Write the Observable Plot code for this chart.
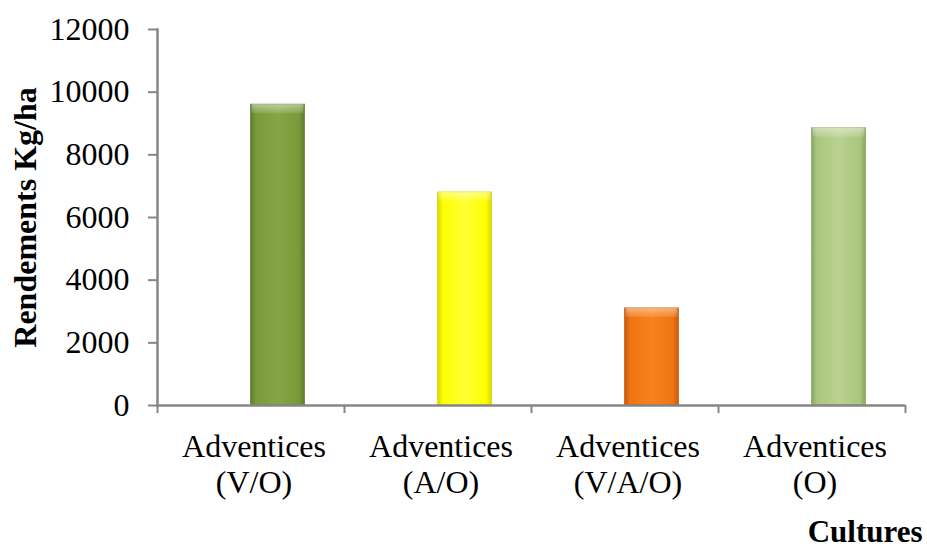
<!DOCTYPE html>
<html>
<head>
<meta charset="utf-8">
<script src="https://cdn.jsdelivr.net/npm/d3@7"></script>
<script src="https://cdn.jsdelivr.net/npm/@observablehq/plot@0.6"></script>
<style>
  html, body { margin: 0; padding: 0; background: #ffffff; }
</style>
</head>
<body>
<div id="chart"></div>
<script>
// Data
const categories = ["Adventices\n(V/O)", "Adventices\n(A/O)", "Adventices\n(V/A/O)", "Adventices\n(O)"];
const rendements = [9600, 6800, 3100, 8850];
const baseColors = ["#79993A", "#FFFF00", "#F07412", "#AAC67F"];
const lightColors = ["#86A645", "#FFFF33", "#F7821E", "#B9D290"];
const edgeColors = ["#5E7A2A", "#D6D600", "#C65A08", "#88A462"];
const yTicks = [0, 2000, 4000, 6000, 8000, 10000, 12000];
const yTitle = "Rendements Kg/ha";
const xTitle = "Cultures";

const data = categories.map((c, i) => ({cat: c, val: rendements[i], idx: i}));

const band = 748 / categories.length;
const barW = 54;
const insetL = band / 2;
const insetR = band - insetL - barW;
const axisColor = "#868686";

function defsMark() {
  const defs = d3.create("svg:defs");
  baseColors.forEach((b, i) => {
    const g = defs.append("linearGradient").attr("id", "g" + i)
      .attr("x1", 0).attr("x2", 1).attr("y1", 0).attr("y2", 0);
    g.append("stop").attr("offset", "0%").attr("stop-color", edgeColors[i]);
    g.append("stop").attr("offset", "10%").attr("stop-color", b);
    g.append("stop").attr("offset", "50%").attr("stop-color", lightColors[i]);
    g.append("stop").attr("offset", "90%").attr("stop-color", b);
    g.append("stop").attr("offset", "100%").attr("stop-color", edgeColors[i]);
  });
  const t = defs.append("linearGradient").attr("id", "topbev")
    .attr("x1", 0).attr("x2", 0).attr("y1", 0).attr("y2", 1);
  t.append("stop").attr("offset", "0%").attr("stop-color", "#ffffff").attr("stop-opacity", 0.45);
  t.append("stop").attr("offset", "100%").attr("stop-color", "#ffffff").attr("stop-opacity", 0.1);
  return defs.node();
}

const barMarks = data.map((d, i) =>
  Plot.barY([d], {
    x: "cat", y: "val",
    insetLeft: insetL, insetRight: insetR,
    fill: `url(#g${i})`,
    stroke: edgeColors[i], strokeWidth: 1, strokeOpacity: 0.7
  })
);

const chart = Plot.plot({
  width: 927,
  height: 550,
  marginLeft: 157,
  marginRight: 22,
  marginTop: 29,
  marginBottom: 145,
  x: {domain: categories, padding: 0, axis: null},
  y: {domain: [0, 12000], axis: null},
  style: {fontFamily: "'Liberation Serif', 'Times New Roman', serif", fontSize: "32px", background: "#ffffff", color: "#000000"},
  marks: [
    defsMark,
    ...barMarks,
    Plot.barY(data, {
      x: "cat", y1: "val", y2: "val",
      insetLeft: insetL + 1, insetRight: insetR + 1, insetBottom: -9,
      fill: "url(#topbev)"
    }),
    Plot.frame({anchor: "left", stroke: axisColor, strokeWidth: 2.5}),
    Plot.ruleY([0], {stroke: axisColor, strokeWidth: 2.5}),
    Plot.axisY({ticks: yTicks, tickSize: 9, tickPadding: 19, stroke: axisColor, strokeWidth: 2, fill: "#000000", label: null, tickFormat: d => String(d), fontSize: 32}),
    // boundary ticks below the x axis
    Plot.ruleX(categories, {x: d => d, y1: 0, y2: 0, insetBottom: -8, dx: -band / 2, stroke: axisColor, strokeWidth: 2}),
    Plot.ruleX([categories[categories.length - 1]], {x: d => d, y1: 0, y2: 0, insetBottom: -8, dx: band / 2, stroke: axisColor, strokeWidth: 2}),
    Plot.axisX({tickSize: 0, tickPadding: 25, lineHeight: 1.15, dx: 3, fill: "#000000", label: null, fontSize: 32}),
    Plot.text([yTitle], {frameAnchor: "left", dx: -132, rotate: -90, textAnchor: "middle", lineAnchor: "middle", fontWeight: "bold", fontSize: 32, fill: "#000000"}),
    Plot.text([xTitle], {frameAnchor: "bottom-right", dx: 17, dy: 127, textAnchor: "end", lineAnchor: "middle", fontWeight: "bold", fontSize: 31, fill: "#000000"})
  ]
});

document.getElementById("chart").appendChild(chart);
</script>
</body>
</html>
